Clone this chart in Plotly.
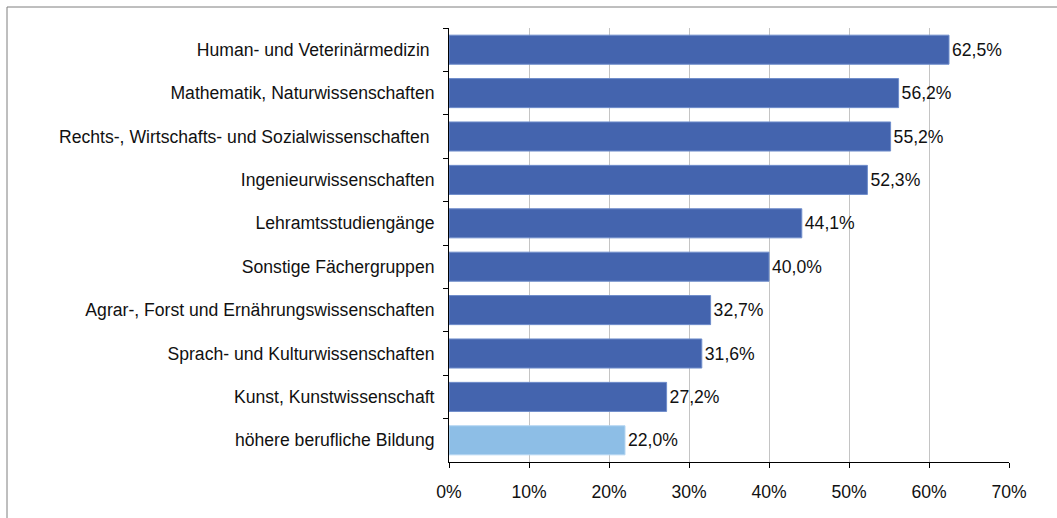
import plotly.graph_objects as go

categories = [
    "Human- und Veterinärmedizin ",
    "Mathematik, Naturwissenschaften",
    "Rechts-, Wirtschafts- und Sozialwissenschaften ",
    "Ingenieurwissenschaften",
    "Lehramtsstudiengänge",
    "Sonstige Fächergruppen",
    "Agrar-, Forst und Ernährungswissenschaften",
    "Sprach- und Kulturwissenschaften",
    "Kunst, Kunstwissenschaft",
    "höhere berufliche Bildung",
]
values = [62.5, 56.2, 55.2, 52.3, 44.1, 40.0, 32.7, 31.6, 27.2, 22.0]
bar_colors = ["#4464AE"] * 9 + ["#8DBEE6"]
line_colors = ["#6F8DCB"] * 9 + ["#B5D6F2"]
tick_vals = [0, 10, 20, 30, 40, 50, 60, 70]
tick_text = ["0%", "10%", "20%", "30%", "40%", "50%", "60%", "70%"]

font = "Liberation Sans, Arial, sans-serif"
FS = 17.6

L, R, T, B = 449, 1009, 28, 462
W, H = 1057, 518
pw, ph = R - L, B - T

fig = go.Figure(
    go.Bar(
        x=values,
        y=categories,
        orientation="h",
        marker=dict(color=bar_colors, line=dict(color=line_colors, width=1)),
        width=0.67,
        text=[f"{v:.1f}%".replace(".", ",") for v in values],
        textposition="outside",
        textfont=dict(size=FS, color="#111111", family=font),
        cliponaxis=False,
        hoverinfo="skip",
    )
)

fig.update_layout(
    width=W,
    height=H,
    margin=dict(l=L, r=W - R, t=T, b=H - B),
    paper_bgcolor="white",
    plot_bgcolor="white",
    showlegend=False,
    font=dict(family=font, size=FS, color="#111111"),
    xaxis=dict(
        range=[0, 70],
        tickvals=tick_vals,
        ticktext=tick_text,
        showgrid=True,
        gridcolor="#C4C4C4",
        gridwidth=1,
        showline=True,
        linecolor="black",
        linewidth=1,
        ticks="outside",
        ticklen=5,
        tickcolor="black",
        zeroline=False,
        tickfont=dict(size=FS, family=font),
        ticklabelstandoff=9,
        fixedrange=True,
    ),
    yaxis=dict(
        autorange="reversed",
        showline=True,
        linecolor="black",
        linewidth=1,
        ticks="outside",
        tickson="boundaries",
        ticklen=5,
        tickcolor="black",
        tickfont=dict(size=FS, family=font),
        ticklabelstandoff=10,
        showgrid=False,
        fixedrange=True,
    ),
    shapes=[
        dict(
            type="line", xref="paper", yref="paper",
            x0=(7 - L) / pw, x1=(1060 - L) / pw,
            y0=(B - 7) / ph, y1=(B - 7) / ph,
            line=dict(color="#7F7F7F", width=1),
        ),
        dict(
            type="line", xref="paper", yref="paper",
            x0=(7 - L) / pw, x1=(7 - L) / pw,
            y0=(B - 7) / ph, y1=(B - 530) / ph,
            line=dict(color="#7F7F7F", width=1),
        ),
    ],
)

fig.write_html(
    "out.html",
    config={"displayModeBar": False},
    post_script="document.body.style.margin='0px';document.body.style.padding='0px';",
)
